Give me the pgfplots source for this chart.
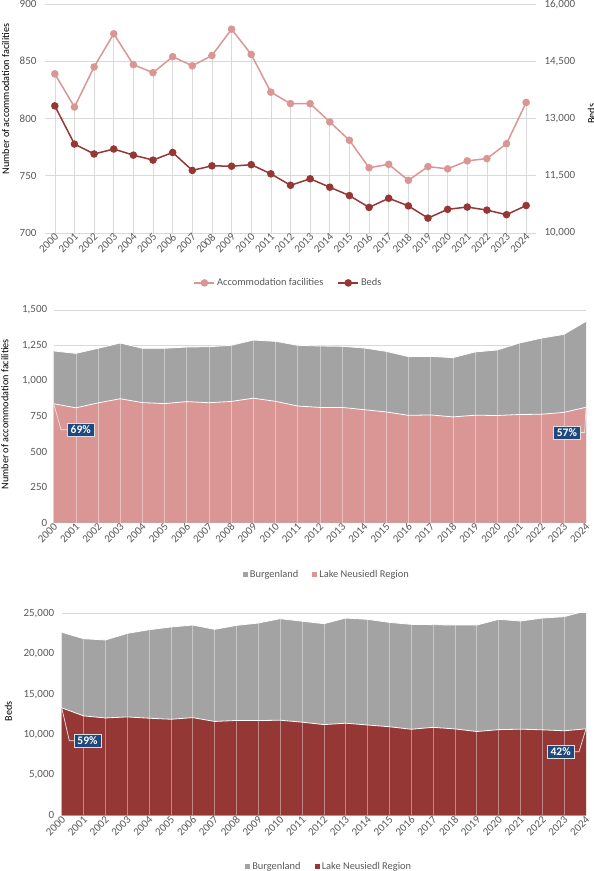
\documentclass[border=0pt]{standalone}
\usepackage{pgfplots}
\pgfplotsset{compat=1.18}
\usepackage{pgfplotstable}
\usepackage{fontspec}
\setmainfont{Carlito}

\definecolor{lakelight}{HTML}{DA9694}
\definecolor{lakedark}{HTML}{953735}
\definecolor{burggray}{HTML}{A3A3A3}
\definecolor{boxblue}{HTML}{1F497D}
\definecolor{gridgray}{HTML}{D9D9D9}
\definecolor{txtgray}{HTML}{595959}

% F  = accommodation facilities, Lake Neusiedl Region
% B  = beds, Lake Neusiedl Region
% TF = accommodation facilities, Burgenland
% TB = beds, Burgenland
\pgfplotstableread{
year F   B     TF   TB
2000 839 13330 1211 22700
2001 810 12330 1194 21900
2002 845 12070 1230 21740
2003 874 12200 1267 22560
2004 847 12040 1230 23010
2005 840 11910 1230 23350
2006 854 12110 1239 23590
2007 846 11640 1241 23060
2008 855 11760 1251 23550
2009 878 11750 1288 23840
2010 856 11790 1279 24380
2011 823 11550 1251 24070
2012 813 11250 1246 23760
2013 813 11420 1244 24460
2014 797 11200 1232 24300
2015 781 10980 1208 23920
2016 757 10670 1171 23680
2017 760 10910 1173 23640
2018 746 10710 1164 23590
2019 758 10390 1204 23590
2020 756 10620 1218 24300
2021 763 10680 1267 24090
2022 765 10600 1302 24460
2023 778 10480 1328 24630
2024 814 10720 1420 25370
}\data

\pgfplotsset{
  base/.style={
    scale only axis,
    axis line style={draw=none},
    major tick length=0pt,
    scaled y ticks=false,
    tick label style={font=\fontsize{11}{12}\selectfont, text=txtgray},
    label style={font=\fontsize{10.2}{12}\selectfont, text=black},
    xtick={2000,...,2024},
    xticklabel={\pgfmathprintnumber[assume math mode=true,1000 sep={}]{\tick}},
    yticklabel={\pgfmathprintnumber[assume math mode=true,1000 sep={,}]{\tick}},
    xticklabel style={rotate=45, anchor=east, xshift=3pt, yshift=-3pt},
    grid style={gridgray, line width=0.6pt},
    legend style={draw=none, fill=none, font=\fontsize{10.4}{12}\selectfont,
      text=txtgray, anchor=center, legend columns=-1,
      /tikz/every even column/.append style={column sep=12pt}},
  },
  arealeg/.style={
    legend image code/.code={\path[##1,draw=none] (0pt,-2.6pt) rectangle (5.2pt,2.6pt);}},
  lineleg/.style={
    legend image code/.code={\draw[mark repeat=2,mark phase=2,##1]
      plot coordinates {(0pt,0pt) (10pt,0pt) (20pt,0pt)};}},
}
\tikzset{
  pct/.style={fill=boxblue, draw=white!75!gray, line width=0.5pt, text=white,
    font=\fontsize{11.5}{12}\selectfont\bfseries, inner xsep=3.5pt, inner ysep=2.5pt},
  leader/.style={white!80!gray, line width=0.7pt},
}

\begin{document}
\begin{tikzpicture}
\useasboundingbox (0,0) rectangle (594pt,871pt);

% ---------- panel 1: lines on two y axes ----------
\begin{axis}[base, lineleg,
  at={(45pt,638pt)}, anchor=south west,
  width=491pt, height=229pt,
  xmin=1999.5, xmax=2024.5,
  ymin=700, ymax=900, ytick={700,750,...,900},
  ymajorgrids,
  yticklabel style={xshift=-5pt},
  ylabel={Number of accommodation facilities},
  ylabel style={at={(axis description cs:-0.08,0.585)}, anchor=center},
  legend style={at={(0.496,-0.218)}},
]
\addplot[ycomb, gridgray, line width=0.6pt, forget plot] table[x=year,y=F]{\data};
\addplot[lakelight, line width=1.5pt, mark=*, mark size=3pt,
  mark options={fill=lakelight, draw=lakelight}] table[x=year,y=F]{\data};
\addlegendentry{Accommodation facilities}
\addlegendimage{lakedark, line width=1.5pt, mark=*, mark size=3pt,
  mark options={fill=lakedark, draw=lakedark}}
\addlegendentry{Beds}
\end{axis}

\begin{axis}[base,
  at={(45pt,638pt)}, anchor=south west,
  width=491pt, height=229pt,
  xmin=1999.5, xmax=2024.5,
  hide x axis,
  axis y line*=right,
  ymin=10000, ymax=16000, ytick={10000,11500,...,16000},
  yticklabel style={xshift=5pt},
  ylabel={Beds},
  ylabel style={at={(axis description cs:1.113,0.52)}, anchor=center},
]
\addplot[lakedark, line width=1.5pt, mark=*, mark size=3pt,
  mark options={fill=lakedark, draw=lakedark}] table[x=year,y=B]{\data};
\end{axis}

% ---------- panel 2: accommodation facilities, areas ----------
\begin{axis}[base, arealeg,
  at={(53.7pt,348.3pt)}, anchor=south west,
  width=532.3pt, height=212.7pt,
  xmin=2000, xmax=2024,
  ymin=0, ymax=1500, ytick={0,250,...,1500},
  ymajorgrids,
  yticklabel style={xshift=-3pt},
  ylabel={Number of accommodation facilities},
  ylabel style={at={(axis description cs:-0.0915,0.51)}, anchor=center},
  legend style={at={(0.513,-0.245)}},
]
\addplot[fill=burggray, draw=none] table[x=year,y=TF]{\data} \closedcycle;
\addlegendentry{Burgenland}
\addplot[fill=lakelight, draw=none] table[x=year,y=F]{\data} \closedcycle;
\addlegendentry{Lake Neusiedl Region}
\addplot[white, line width=0.8pt, forget plot] table[x=year,y=TF]{\data};
\addplot[white, line width=0.8pt, forget plot] table[x=year,y=F]{\data};
\addplot[ycomb, white, opacity=0.4, line width=0.6pt, forget plot] table[x=year,y=TF]{\data};
\draw[leader] (axis cs:2000,839) -- (axis cs:2000.33,656) -- (axis cs:2000.7,656);
\node[pct] at (axis cs:2001.22,656) {69\%};
\draw[leader] (axis cs:2024,814) -- (axis cs:2023.94,636) -- (axis cs:2023.7,636);
\node[pct] at (axis cs:2023.14,636) {57\%};
\end{axis}

% ---------- panel 3: beds, areas ----------
\begin{axis}[base, arealeg,
  at={(61.7pt,55.7pt)}, anchor=south west,
  width=524.3pt, height=201.6pt,
  xmin=2000, xmax=2024,
  ymin=0, ymax=25000, ytick={0,5000,...,25000},
  ymajorgrids,
  yticklabel style={xshift=-4pt},
  ylabel={Beds},
  ylabel style={at={(axis description cs:-0.1015,0.515)}, anchor=center},
  legend style={at={(0.51,-0.255)}},
]
\addplot[fill=burggray, draw=none] table[x=year,y=TB]{\data} \closedcycle;
\addlegendentry{Burgenland}
\addplot[fill=lakedark, draw=none] table[x=year,y=B]{\data} \closedcycle;
\addlegendentry{Lake Neusiedl Region}
\addplot[white, line width=0.8pt, forget plot] table[x=year,y=TB]{\data};
\addplot[white, line width=0.8pt, forget plot] table[x=year,y=B]{\data};
\addplot[ycomb, white, opacity=0.4, line width=0.6pt, forget plot] table[x=year,y=TB]{\data};
\draw[leader] (axis cs:2000,13330) -- (axis cs:2000.35,9250) -- (axis cs:2000.65,9250);
\node[pct] at (axis cs:2001.18,9250) {59\%};
\draw[leader] (axis cs:2024,10720) -- (axis cs:2023.68,7886) -- (axis cs:2023.3,7886);
\node[pct] at (axis cs:2022.84,7886) {42\%};
\end{axis}
\end{tikzpicture}
\end{document}
